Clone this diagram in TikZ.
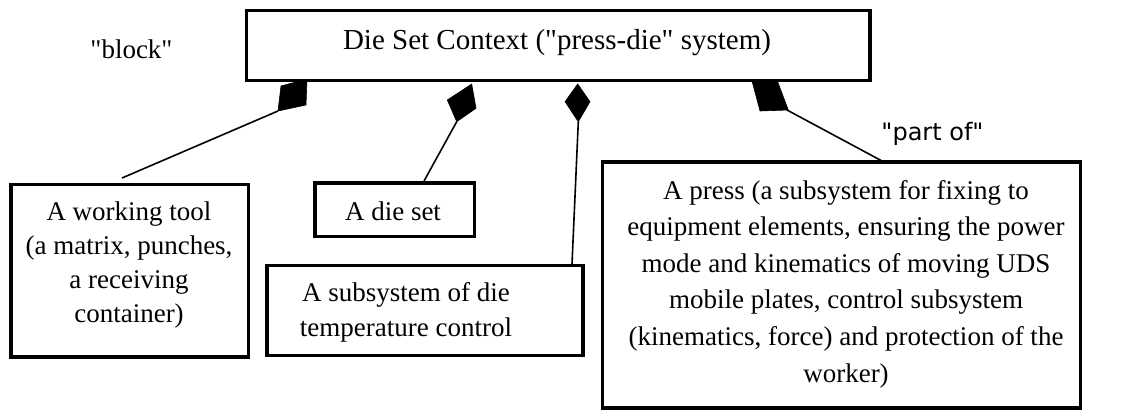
\documentclass[tikz,border=0pt]{standalone}
\usepackage{fontspec}
\setmainfont{Liberation Serif}[Ligatures=TeXOff]
\newfontfamily\labelsans{DejaVu Sans}
\begin{document}
\begin{tikzpicture}[x=1pt,y=-1pt,
  boxnode/.style={draw=black,line width=3.6pt,fill=white,inner sep=0pt},
  txt/.style={anchor=base,align=center,inner sep=0pt},
  link/.style={draw=black,line width=1.6pt},
  partmark/.style={fill=black,draw=black,line width=0.6pt,line join=miter}]
\useasboundingbox (0,0) rectangle (1131,410);

% diamonds of the composition links
\coordinate (d1a) at (281,86);   \coordinate (d1b) at (307,79);
\coordinate (d1c) at (306,105);  \coordinate (d1d) at (278,111);
\coordinate (d2a) at (471.7,84); \coordinate (d2b) at (447.3,100);
\coordinate (d2c) at (456.7,121.7); \coordinate (d2d) at (476,108.3);
\coordinate (d3a) at (577.7,84); \coordinate (d3b) at (565,101.7);
\coordinate (d3c) at (578.3,121.7); \coordinate (d3d) at (590,101.7);
\coordinate (d4a) at (752.3,82); \coordinate (d4b) at (777.7,82);
\coordinate (d4c) at (788.3,110); \coordinate (d4d) at (760,111);
\fill[partmark] (d1a) -- (d1b) -- (d1c) -- (d1d) -- cycle;
\fill[partmark] (d2a) -- (d2b) -- (d2c) -- (d2d) -- cycle;
\fill[partmark] (d3a) -- (d3b) -- (d3c) -- (d3d) -- cycle;
\fill[partmark] (d4a) -- (d4b) -- (d4c) -- (d4d) -- cycle;

% blocks
\node[boxnode,minimum width=623.5pt,minimum height=70pt] (ctx) at (558.25,45.5) {};
\node[boxnode,minimum width=237.5pt,minimum height=172.5pt] (tool) at (129.75,270.75) {};
\node[boxnode,minimum width=159.5pt,minimum height=53.5pt] (dieset) at (394.75,209.75) {};
\node[boxnode,minimum width=316pt,minimum height=90pt] (temp) at (425,310.5) {};
\node[boxnode,minimum width=478pt,minimum height=246.3pt] (press) at (841.5,284.85) {};

% block texts (base anchor = baseline of the last line)
\node[txt,font=\fontsize{29}{35}\selectfont] (ctxtext) at (557,49)
  {Die Set Context ("press-die" system)};
\node[txt,font=\fontsize{27}{33.8}\selectfont] (tooltext) at (129,322)
  {A working tool\\(a matrix, punches,\\a receiving\\container)};
\node[txt,font=\fontsize{27}{33.8}\selectfont] (diesettext) at (393,220) {A die set};
\node[txt,font=\fontsize{27}{35}\selectfont] (temptext) at (406,336.7)
  {A subsystem of die\\temperature control};
\node[txt,font=\fontsize{27}{36.6}\selectfont] (presstext) at (846,382)
  {A press (a subsystem for fixing to\\equipment elements, ensuring the power\\mode and kinematics of moving UDS\\mobile plates, control subsystem\\(kinematics, force) and protection of the\\worker)};

% free labels
\node[txt,font=\fontsize{27}{33}\selectfont] (blocklabel) at (131.5,58) {"block"};
\node[txt,font=\labelsans\fontsize{24}{29}\selectfont] (partlabel) at (932.5,140) {"part of"};

% connector ends on the part blocks
\coordinate (e1) at (122,178);
\coordinate (e2) at (424,181);
\coordinate (e3) at (572,264);
\coordinate (e4) at (882,161);
\coordinate (d4s) at (787,110);
\draw[link] (d1d) -- (e1);
\draw[link] (d2c) -- (e2);
\draw[link] (d3c) -- (e3);
\draw[link] (d4s) -- (e4);
\end{tikzpicture}
\end{document}
